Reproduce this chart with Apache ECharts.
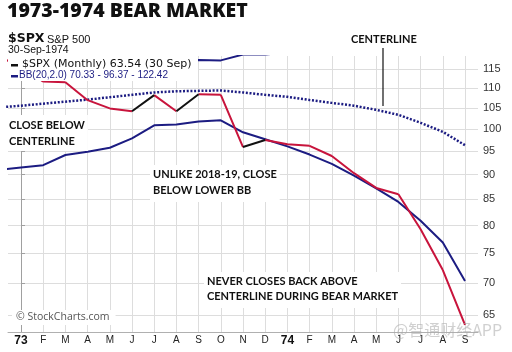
<!DOCTYPE html>
<html><head><meta charset="utf-8">
<script src="https://cdn.jsdelivr.net/npm/echarts@6/dist/echarts.min.js"></script>
<style>html,body{margin:0;padding:0;background:#fff}#c{width:512px;height:352px}</style>
</head><body><div id="c"></div>
<script>
// month index: -1 = Dec 1972, 0 = Jan 1973 ... 20 = Sep 1974
const monthIndex = [-1,0,1,2,3,4,5,6,7,8,9,10,11,12,13,14,15,16,17,18,19,20];
const monthLabels = ['73','F','M','A','M','J','J','A','S','O','N','D','74','F','M','A','M','J','J','A','S'];
const spxClose = [118.05,116.03,111.68,111.52,106.97,104.95,104.26,108.22,104.25,108.43,108.29,95.96,97.55,96.57,96.22,93.98,90.31,87.28,86.00,79.31,72.15,63.54];
const bbMiddle = [105.2,105.6,106.1,106.6,107.1,107.7,108.3,108.9,109.2,109.3,109.4,108.9,108.3,107.8,107.0,106.3,105.6,104.6,103.4,101.5,99.4,96.37];
const bbLower  = [91.0,91.5,92.0,94.2,94.9,95.8,97.9,100.9,101.1,101.8,102.1,99.3,97.7,96.1,94.3,92.3,89.8,87.2,84.5,80.9,76.9,70.33];
const bbUpper  = [119.4,119.7,120.2,119.0,119.3,119.6,118.7,116.9,117.3,117.4,117.3,118.9,118.9,119.5,119.7,120.3,121.4,122.0,122.3,122.1,121.9,122.42];
const yTicks = [65,70,75,80,85,90,95,100,105,110,115];
const labelIndex = [0,1,2,3,4,5,6,7,8,9,10,11,12,13,14,15,16,17,18,19,20];

const NAVY = '#1c1c82', RED = '#c8143c', BLACK = '#111111';
const pair = (xs, ys) => xs.map((x, i) => [x, ys[i]]);
const upSeg = [], downSeg = [];
for (let i = 1; i < spxClose.length; i++) {
  const seg = [[monthIndex[i-1], spxClose[i-1]], [monthIndex[i], spxClose[i]], [monthIndex[i], '-']];
  (spxClose[i] >= spxClose[i-1] ? upSeg : downSeg).push(...seg);
}

const chart = echarts.init(document.getElementById('c'), null, {renderer: 'canvas'});
const annFont = 'bold 11px Lato, "Open Sans", sans-serif';
chart.setOption({
  animation: false,
  backgroundColor: '#fff',
  grid: {left: 8, right: 34, top: 56, bottom: 20, containLabel: false},
  xAxis: {
    type: 'value', min: -0.585, max: 20.585,
    axisLine: {show: true, lineStyle: {color: '#b0b0b0'}},
    axisTick: {show: false, customValues: labelIndex},
    axisLabel: {
      customValues: labelIndex, margin: 3,
      formatter: v => { const s = monthLabels[Math.round(v)]; return (s === '73' || s === '74') ? '{b|' + s + '}' : '{n|' + s + '}'; },
      rich: {
        b: {fontFamily: 'Liberation Sans, Arial', fontWeight: 'bold', fontSize: 12, color: '#111'},
        n: {fontFamily: 'Liberation Sans, Arial', fontSize: 10, color: '#222'}
      }
    },
    splitLine: {show: true, lineStyle: {color: '#dddddd', width: 1}}
  },
  yAxis: {
    type: 'log', logBase: 10, min: 62.5, max: 118.5, position: 'right',
    axisLine: {show: true, lineStyle: {color: '#a0a0a0'}},
    axisTick: {show: true, customValues: yTicks, length: 4, lineStyle: {color: '#a0a0a0'}},
    axisLabel: {customValues: yTicks, margin: 5, fontFamily: 'Liberation Sans, Arial', fontSize: 11, color: '#333'},
    splitLine: {show: true, lineStyle: {color: '#dddddd', width: 1}}
  },
  series: [
    {type: 'line', name: 'BB upper', data: pair(monthIndex, bbUpper), symbol: 'none', lineStyle: {color: NAVY, width: 2}, z: 3},
    {type: 'line', name: 'BB middle', data: pair(monthIndex, bbMiddle), symbol: 'none', lineStyle: {color: NAVY, width: 2.5, type: [2, 1.7]}, z: 3},
    {type: 'line', name: 'BB lower', data: pair(monthIndex, bbLower), symbol: 'none', lineStyle: {color: NAVY, width: 2}, z: 3},
    {type: 'line', name: 'SPX down', data: downSeg, symbol: 'none', connectNulls: false, lineStyle: {color: RED, width: 2}, z: 4},
    {type: 'line', name: 'SPX up', data: upSeg, symbol: 'none', connectNulls: false, lineStyle: {color: BLACK, width: 2}, z: 4}
  ],
  graphic: [
    {type: 'text', left: 7, top: 1, z: 100, style: {text: '1973-1974 BEAR MARKET', font: '800 19.5px "Open Sans", Lato, sans-serif', fill: '#111'}},
    {type: 'text', left: 8, top: 32, z: 100, style: {text: '$SPX', font: 'bold 12.5px "DejaVu Sans", sans-serif', fill: '#111'}},
    {type: 'text', left: 47, top: 34, z: 100, style: {text: 'S&P 500', font: '11px "Liberation Sans", Arial, sans-serif', fill: '#111'}},
    {type: 'rect', left: 8, top: 54.5, z: 100, shape: {width: 190, height: 26.5}, style: {fill: '#fff'}},
    {type: 'text', left: 8, top: 45, z: 102, style: {text: '30-Sep-1974', font: '10.5px "Liberation Sans", Arial, sans-serif', fill: '#111'}},
    {type: 'rect', left: 11, top: 64, z: 101, shape: {width: 7, height: 2.5}, style: {fill: '#111'}},
    {type: 'text', left: 22, top: 59, z: 101, style: {text: '$SPX (Monthly) 63.54 (30 Sep)', font: '11px "DejaVu Sans", sans-serif', fill: '#111'}},
    {type: 'rect', left: 11, top: 75, z: 101, shape: {width: 7, height: 2.5}, style: {fill: NAVY}},
    {type: 'text', left: 19, top: 70.5, z: 101, style: {text: 'BB(20,2.0) 70.33 - 96.37 - 122.42', font: '10px "Liberation Sans", Arial, sans-serif', fill: NAVY}},
    {type: 'text', left: 351, top: 34, z: 100, style: {text: 'CENTERLINE', font: annFont, fill: '#111'}},
    {type: 'line', z: 100, shape: {x1: 383, y1: 48, x2: 383, y2: 106}, style: {stroke: '#111', lineWidth: 1.2}},
    {type: 'text', left: 8, top: 115, z: 100, style: {text: 'CLOSE BELOW\nCENTERLINE', font: annFont, fill: '#111', lineHeight: 16, backgroundColor: '#fff', padding: [2, 3, 2, 1]}},
    {type: 'text', left: 150, top: 165, z: 100, style: {text: 'UNLIKE 2018-19, CLOSE\nBELOW LOWER BB', font: annFont, fill: '#111', lineHeight: 15.5, backgroundColor: '#fff', padding: [2, 3, 4, 3]}},
    {type: 'text', left: 204, top: 272, z: 100, style: {text: 'NEVER CLOSES BACK ABOVE\nCENTERLINE DURING BEAR MARKET', font: annFont, fill: '#111', lineHeight: 15, backgroundColor: '#fff', padding: [2, 3, 4, 3]}},
    {type: 'text', left: 12, top: 310, z: 100, style: {text: '© StockCharts.com', font: '10.5px "Open Sans", sans-serif', fill: '#555', backgroundColor: '#fff', padding: [2, 6, 2, 4]}},
    {type: 'text', left: 393, top: 322, z: 120, style: {text: '@智通财经APP', font: '16px "Noto Sans CJK SC", sans-serif', fill: 'rgba(170,170,170,0.55)'}}
  ]
});
</script>
</body></html>
